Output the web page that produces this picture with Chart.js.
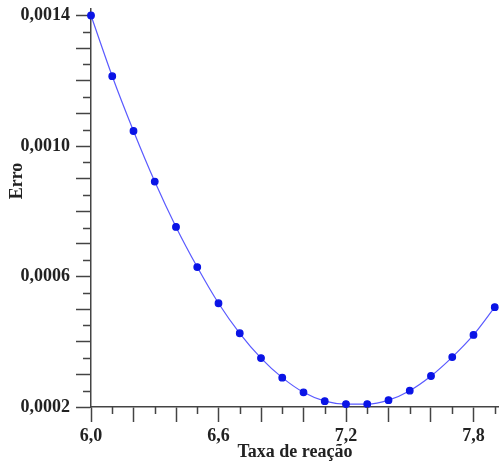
<!DOCTYPE html>
<html>
<head>
<meta charset="utf-8">
<script src="https://cdn.jsdelivr.net/npm/chart.js@4"></script>
<style>
  html, body { margin: 0; padding: 0; background: #fff; }
  #wrap { width: 499px; height: 463px; }
</style>
</head>
<body>
<div id="wrap"><canvas id="erroChart"></canvas></div>
<script>
// taxa de reação (x) vs erro (y)
const taxa = [6.0, 6.1, 6.2, 6.3, 6.4, 6.5, 6.6, 6.7, 6.8, 6.9,
              7.0, 7.1, 7.2, 7.3, 7.4, 7.5, 7.6, 7.7, 7.8, 7.9];
const erro = [0.001400, 0.001214, 0.001046, 0.000891, 0.000752, 0.000629, 0.000518, 0.000426, 0.000350, 0.000290,
              0.000245, 0.000218, 0.000209, 0.000209, 0.000221, 0.000250, 0.000295, 0.000353, 0.000421, 0.000506];
const xLabels = [6.0, 6.6, 7.2, 7.8];
const yLabels = [0.0002, 0.0006, 0.0010, 0.0014];

const FONT = { family: "'Liberation Serif', 'DejaVu Serif', serif", size: 18, weight: 'bold' };
const AXIS = '#444';

const fmt = (v, d) => v.toFixed(d).replace('.', ',');

// short ticks between the long ones + rotated "Erro" title
const extras = {
  id: 'extras',
  afterDraw(chart) {
    const { ctx, scales: { x, y }, chartArea } = chart;
    ctx.save();
    ctx.strokeStyle = AXIS;
    ctx.lineWidth = 1.5;
    ctx.beginPath();
    for (let k = 61; k <= 79; k += 2) {
      const px = Math.round(x.getPixelForValue(k / 10)) + 0.5;
      ctx.moveTo(px, chartArea.bottom);
      ctx.lineTo(px, chartArea.bottom + 7);
    }
    for (let k = 25; k <= 135; k += 10) {
      const py = Math.round(y.getPixelForValue(k / 100000)) + 0.5;
      ctx.moveTo(chartArea.left - 8, py);
      ctx.lineTo(chartArea.left, py);
    }
    ctx.stroke();
    ctx.translate(17, 181);
    ctx.rotate(-Math.PI / 2);
    ctx.fillStyle = '#222';
    ctx.font = `bold ${FONT.size}px ${FONT.family}`;
    ctx.textAlign = 'center';
    ctx.textBaseline = 'middle';
    ctx.fillText('Erro', 0, 0);
    ctx.restore();
  }
};

new Chart(document.getElementById('erroChart'), {
  type: 'line',
  data: {
    datasets: [{
      data: taxa.map((t, i) => ({ x: t, y: erro[i] })),
      borderColor: '#5a5aff',
      borderWidth: 1.2,
      pointBackgroundColor: '#0a14e6',
      pointBorderColor: '#0a14e6',
      pointRadius: 3.3,
      cubicInterpolationMode: 'monotone',
      clip: false
    }]
  },
  options: {
    responsive: true,
    maintainAspectRatio: false,
    animation: false,
    layout: { autoPadding: false, padding: { top: 9, right: 0, left: 0, bottom: 0 } },
    plugins: { legend: { display: false }, tooltip: { enabled: false } },
    scales: {
      x: {
        type: 'linear',
        min: 6.0,
        max: 7.92,
        afterBuildTicks: s => {
          s.ticks = s.ticks.filter(t => Math.abs(t.value * 5 - Math.round(t.value * 5)) < 1e-6);
        },
        afterFit: s => { s.height = 56; s.paddingLeft = 0; s.paddingRight = 0; },
        border: { color: AXIS, width: 1.5 },
        grid: { drawOnChartArea: false, tickLength: 15, tickColor: AXIS, tickWidth: 1.5 },
        ticks: {
          stepSize: 0.2,
          includeBounds: false,
          autoSkip: false,
          maxRotation: 0,
          padding: 4,
          color: '#222',
          font: FONT,
          callback: v => xLabels.some(l => Math.abs(l - v) < 1e-6) ? fmt(v, 1) : ''
        },
        title: {
          display: true,
          text: 'Taxa de reação',
          color: '#222',
          font: FONT,
          padding: { top: 0, bottom: 0 }
        }
      },
      y: {
        min: 0.0002,
        max: 0.00142,
        afterBuildTicks: s => {
          s.ticks = s.ticks.filter(t => Math.abs(t.value * 10000 - Math.round(t.value * 10000)) < 1e-6);
        },
        afterFit: s => { s.width = 91; s.paddingTop = 0; s.paddingBottom = 0; },
        border: { color: AXIS, width: 1.5 },
        grid: { drawOnChartArea: false, tickLength: 15, tickColor: AXIS, tickWidth: 1.5 },
        ticks: {
          stepSize: 0.0001,
          includeBounds: false,
          autoSkip: false,
          padding: 6,
          color: '#222',
          font: FONT,
          callback: v => yLabels.some(l => Math.abs(l - v) < 1e-9) ? fmt(v, 4) : ''
        }
      }
    }
  },
  plugins: [extras]
});
</script>
</body>
</html>
